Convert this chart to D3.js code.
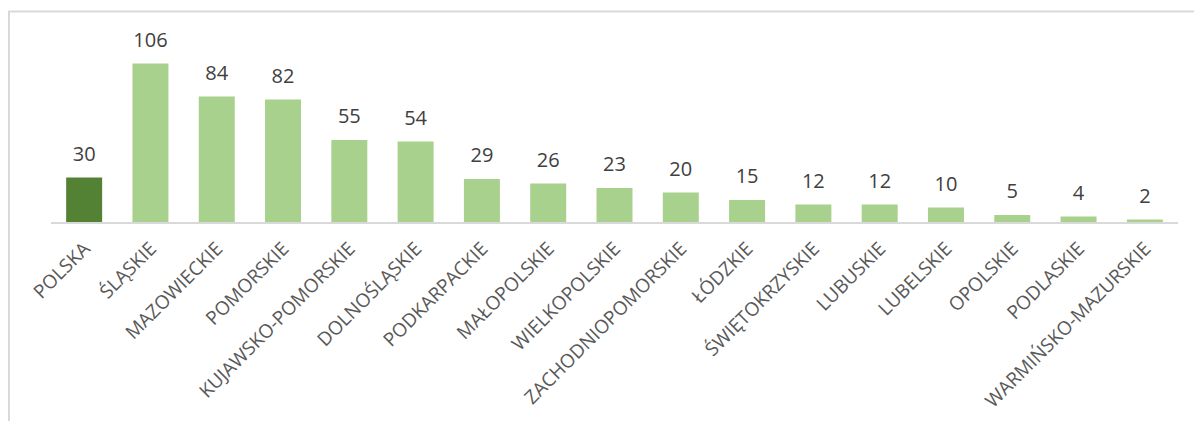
<!DOCTYPE html>
<html>
<head>
<meta charset="utf-8">
<script src="https://cdn.jsdelivr.net/npm/d3@7"></script>
<style>
  body { margin: 0; background: #fff; }
  text { font-family: "Open Sans", sans-serif; }
</style>
</head>
<body>
<div class="chart"></div>
<script>
var regions = ['POLSKA','ŚLĄSKIE','MAZOWIECKIE','POMORSKIE','KUJAWSKO-POMORSKIE','DOLNOŚLĄSKIE',
    'PODKARPACKIE','MAŁOPOLSKIE','WIELKOPOLSKIE','ZACHODNIOPOMORSKIE','ŁÓDZKIE','ŚWIĘTOKRZYSKIE',
    'LUBUSKIE','LUBELSKIE','OPOLSKIE','PODLASKIE','WARMIŃSKO-MAZURSKIE'];
var values = [30,106,84,82,55,54,29,26,23,20,15,12,12,10,5,4,2];

var w = 1194, h = 421;

var svg = d3.select('.chart')
    .append('svg')
    .attr('width', w)
    .attr('height', h);

// frame (only top and left edges are visible in the crop)
svg.append('path')
    .attr('d', 'M9,' + h + 'V11.5H' + w)
    .attr('fill', 'none')
    .attr('stroke', '#d9d9d9')
    .attr('stroke-width', 2);

var x = d3.scaleBand()
    .domain(regions)
    .range([51, 1178])
    .paddingInner(0.457)
    .paddingOuter(0.2285);

var y = d3.scaleLinear()
    .domain([0, 106])
    .range([222.5, 63.5]);

svg.selectAll('rect.bar')
    .data(values)
    .enter()
    .append('rect')
    .attr('class', 'bar')
    .attr('x', function(d, i) { return x(regions[i]); })
    .attr('y', function(d) { return y(d); })
    .attr('width', x.bandwidth())
    .attr('height', function(d) { return y(0) - y(d); })
    .attr('fill', function(d, i) { return i == 0 ? '#548235' : '#a9d18e'; });

// baseline
svg.append('line')
    .attr('x1', 51).attr('x2', 1178)
    .attr('y1', y(0) + 0.5).attr('y2', y(0) + 0.5)
    .attr('stroke', '#d9d9d9')
    .attr('stroke-width', 2);

svg.selectAll('text.val')
    .data(values)
    .enter()
    .append('text')
    .attr('class', 'val')
    .attr('x', function(d, i) { return x(regions[i]) + x.bandwidth() / 2; })
    .attr('y', function(d) { return y(d) - 17; })
    .attr('text-anchor', 'middle')
    .attr('font-size', 20)
    .attr('fill', '#404040')
    .text(function(d) { return d; });

svg.selectAll('text.label')
    .data(regions)
    .enter()
    .append('text')
    .attr('class', 'label')
    .attr('text-anchor', 'end')
    .attr('transform', function(d) {
        return 'translate(' + (x(d) + x.bandwidth() / 2 + 7) + ',' + 250 + ') rotate(-45)';
    })
    .attr('font-size', 19)
    .attr('fill', '#595959')
    .text(function(d) { return d; });
</script>
</body>
</html>
